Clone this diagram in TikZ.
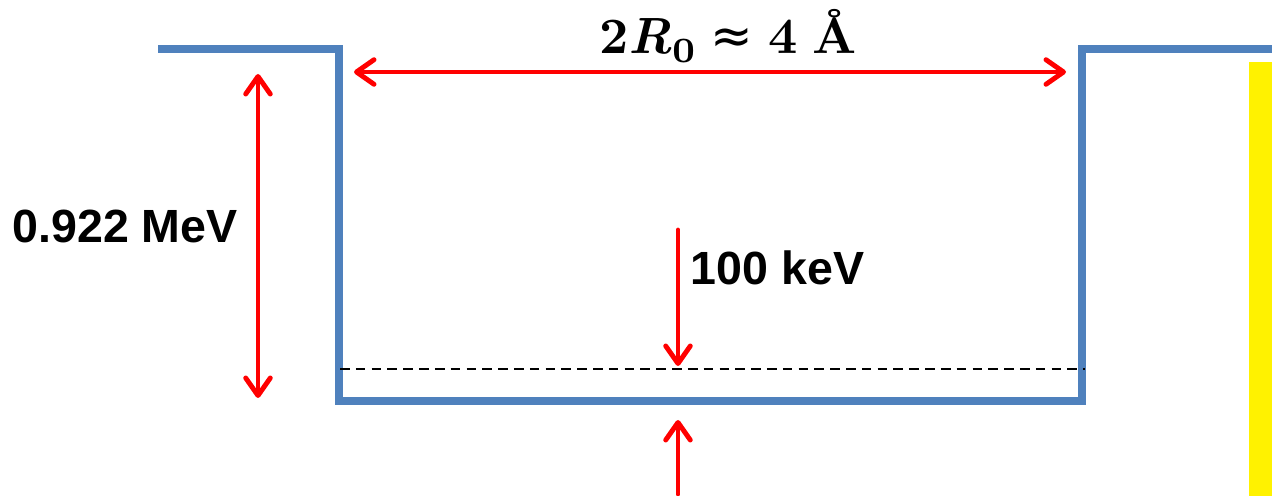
\documentclass[tikz,border=0pt]{standalone}
\usepackage{fontspec}
\newfontfamily\labelfont{Liberation Sans}
\newfontfamily\symfont{DejaVu Sans}
\usepackage{tikz}
\usetikzlibrary{arrows.meta,positioning,calc}

\definecolor{wellblue}{RGB}{79,129,189}
\tikzset{
	well/.style={line width=4.5pt, wellblue, line join=miter},
	barb/.tip={Straight Barb[length=10pt, width=14pt, line cap=round, line join=round]},
	redarrow/.style={line width=2.8pt, red, line cap=round, barb-barb},
	redsingle/.style={line width=2.8pt, red, line cap=round, -barb},
	textlabel/.style={font=\labelfont\bfseries, scale=2.65, inner sep=0pt},
	diamlabel/.style={font=\bfseries, scale=2.9, inner sep=0pt}
}

\begin{document}
\begin{tikzpicture}[x=0.02cm, y=-0.02cm]
			\useasboundingbox (0,0) rectangle (1272,496);
			
			% Yellow strip on the right
			\fill[yellow] (1249,62) rectangle (1272,496);
			
			% Corners of the well
			\coordinate (lout) at (158,49);
			\coordinate (ltop) at (339,49);
			\coordinate (lbot) at (339,401);
			\coordinate (rbot) at (1082,401);
			\coordinate (rtop) at (1082,49);
			\coordinate (rout) at (1272,49);
			
			% Square well
			\draw[well] (lout) -- (ltop) -- (lbot) -- (rbot) -- (rtop) -- (rout);
			
			% Level inside the well
			\coordinate (lvla) at (340,369);
			\coordinate (lvlb) at (1085,369);
			\draw[black, line width=1.3pt, dash pattern=on 5.5pt off 3.5pt] (lvla) -- (lvlb);
			
			% Width of the well
			\coordinate (wa) at (354,72);
			\coordinate (wb) at (1066,72);
			\draw[redarrow] (wa) -- (wb);
			\node[diamlabel, anchor=base west] (diam) at (598,54)
				{2\textit{R}\raisebox{-0.17em}{\scriptsize 0}\hspace{0.3em}{\symfont\mdseries ≈}\hspace{0.3em}4\hspace{0.3em}Å};
			
			% Depth of the well
			\coordinate (da) at (258,74);
			\coordinate (db) at (258,398);
			\draw[redarrow] (da) -- (db);
			\node[textlabel] (depth) at (125,226) {0.922 MeV};
			
			% Level marker
			\coordinate (ka) at (678,230);
			\coordinate (kb) at (678,366);
			\draw[redsingle] (ka) -- (kb);
			\node[textlabel, anchor=west] (kev) at (690,268) {100 keV};
			
			\coordinate (ua) at (678,494);
			\coordinate (ub) at (678,420);
			\draw[redsingle] (ua) -- (ub);
		\end{tikzpicture}
\end{document}
